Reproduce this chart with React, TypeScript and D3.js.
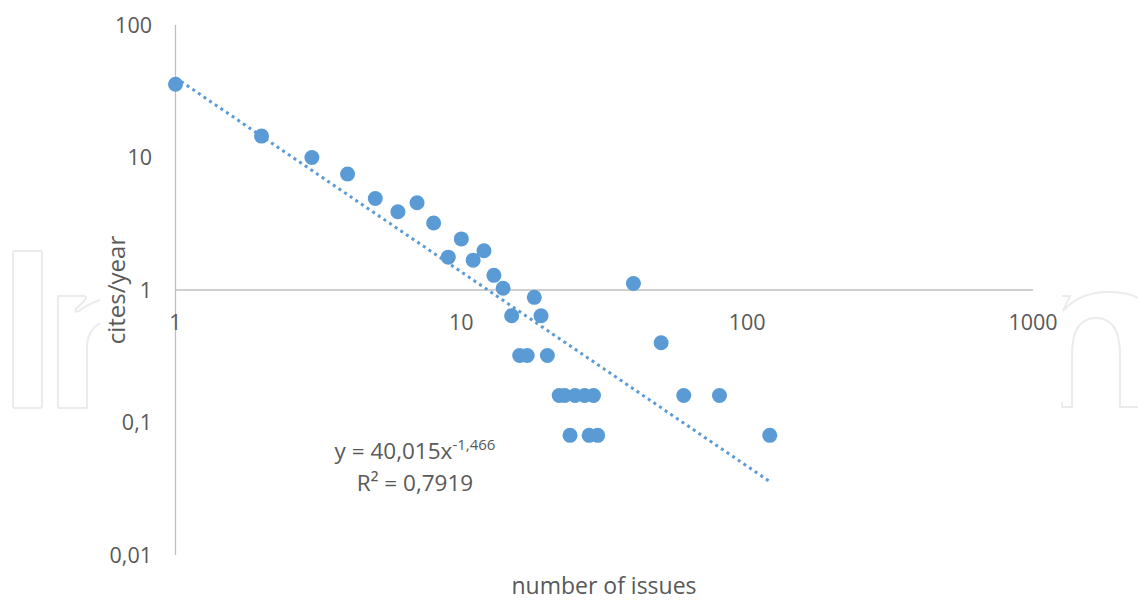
import React from "react";
import * as d3 from "d3";

const issues = [1, 2, 3, 4, 5, 6, 7, 8, 9, 10, 11, 12, 13, 14, 15, 16, 17, 18, 19, 20, 22, 23, 24, 25, 27, 28, 29, 30, 40, 50, 60, 80, 120];
const citesPerYear = [35.7, 14.5, 10.0, 7.5, 4.9, 3.9, 4.55, 3.2, 1.77, 2.43, 1.68, 1.98, 1.29, 1.03, 0.64, 0.32, 0.32, 0.88, 0.64, 0.32, 0.16, 0.16, 0.08, 0.16, 0.16, 0.08, 0.16, 0.08, 1.12, 0.4, 0.16, 0.16, 0.08];
const xTicks = [1, 10, 100, 1000];
const yTicks = [0.01, 0.1, 1, 10, 100];
const yTickLabels = ["0,01", "0,1", "1", "10", "100"];
const trendA = 40.015;
const trendB = -1.466;
const trendRange = [1, 120];

const W = 1138;
const H = 602;
const BLUE = "#5B9BD5";
const TEXT = "#595959";
const AXIS = "#bfbfbf";
const WM = "#ebebeb";
const FONT = "'Open Sans', 'Noto Sans', sans-serif";

export default function App() {
  const x = d3.scaleLog().domain([1, 1000]).range([175.5, 1033]);
  const y = d3.scaleLog().domain([0.01, 100]).range([555, 25]);

  const trendPts: [number, number][] = d3.range(0, 201).map((i) => {
    const lx =
      Math.log10(trendRange[0]) +
      (i / 200) * (Math.log10(trendRange[1]) - Math.log10(trendRange[0]));
    const xv = Math.pow(10, lx);
    return [xv, trendA * Math.pow(xv, trendB)];
  });
  const line = d3
    .line<[number, number]>()
    .x((d) => x(d[0]))
    .y((d) => y(d[1]));

  const y1 = y(1);

  return (
    <svg
      width={W}
      height={H}
      style={{ position: "absolute", left: 0, top: 0, background: "#fff" }}
      fontFamily={FONT}
    >
      <rect x={0} y={0} width={W} height={H} fill="#fff" />
      {/* watermark */}
      <g fill="none" stroke={WM} strokeWidth={2}>
        <rect x={13} y={251} width={29} height={157} rx={2} />
        <path d="M58,408 V296 H84 Q88,297 84,301 L76,309 Q74,313 79,311 Q88,304 100,300" />
        <path d="M58,408 H87 V345 Q88,330 100,323" />
        <path d="M1062,402 V407 H1072 V355 Q1072,318 1096,318 Q1120,318 1120,355 V407 H1138" />
        <path d="M1062,296 H1070 L1063,311 Q1080,292 1108,292 Q1128,292 1138,298" />
      </g>

      {/* axes */}
      <line x1={x(1)} x2={x(1)} y1={y(100)} y2={y(0.01)} stroke={AXIS} strokeWidth={1.3} />
      <line x1={x(1)} x2={x(1000)} y1={y1} y2={y1} stroke={AXIS} strokeWidth={1.3} />

      {/* y tick labels */}
      {yTicks.map((t, i) => (
        <text
          key={"y" + t}
          x={152}
          y={y(t)}
          dy="0.35em"
          textAnchor="end"
          fontSize={21.5}
          fill={TEXT}
        >
          {yTickLabels[i]}
        </text>
      ))}
      {/* x tick labels */}
      {xTicks.map((t) => (
        <text
          key={"x" + t}
          x={x(t)}
          y={y1 + 32}
          dy="0.35em"
          textAnchor="middle"
          fontSize={21.5}
          fill={TEXT}
        >
          {String(t)}
        </text>
      ))}

      {/* trendline */}
      <path
        d={line(trendPts) || ""}
        fill="none"
        stroke={BLUE}
        strokeWidth={3}
        strokeDasharray="3 3.8"
      />

      {/* points */}
      {issues.map((xv, i) => (
        <circle key={i} cx={x(xv)} cy={y(citesPerYear[i])} r={7.5} fill={BLUE} />
      ))}

      {/* equation */}
      <text x={415} y={459} textAnchor="middle" fontSize={22.5} fill={TEXT}>
        y = 40,015x
        <tspan fontSize={15} dy={-9}>-1,466</tspan>
      </text>
      <text x={415} y={491} textAnchor="middle" fontSize={22.5} fill={TEXT}>
        R² = 0,7919
      </text>

      {/* axis titles */}
      <text
        transform={`translate(117,${y1}) rotate(-90)`}
        textAnchor="middle"
        dy="0.35em"
        fontSize={24}
        fill={TEXT}
      >
        cites/year
      </text>
      <text x={604} y={594} textAnchor="middle" fontSize={23} fill={TEXT}>
        number of issues
      </text>
    </svg>
  );
}
